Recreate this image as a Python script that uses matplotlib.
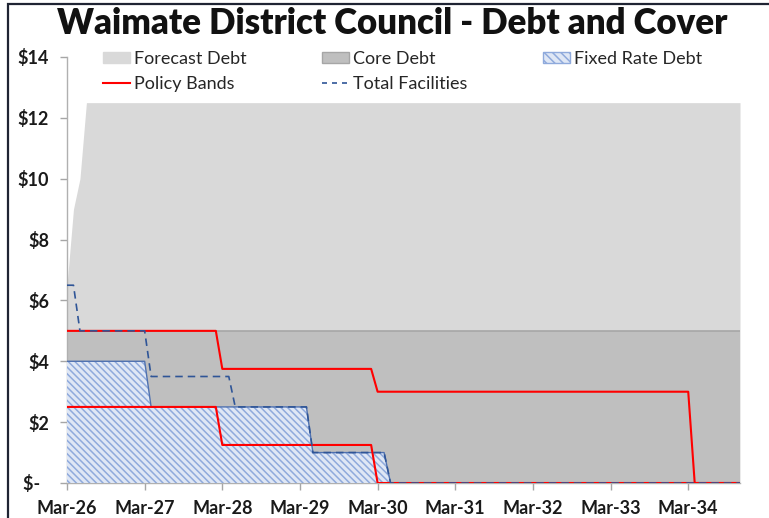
import matplotlib
matplotlib.use("Agg")
import matplotlib.pyplot as plt
from matplotlib.patches import Patch, Rectangle
from matplotlib.lines import Line2D

plt.rcParams['font.family'] = ['Lato', 'DejaVu Sans']

# ---- data (month index from Mar-26; value in $m) ----
tick_months = [0, 12, 24, 36, 48, 60, 72, 84, 96]
tick_labels = ["Mar-26", "Mar-27", "Mar-28", "Mar-29", "Mar-30",
               "Mar-31", "Mar-32", "Mar-33", "Mar-34"]
y_ticks = [0, 2, 4, 6, 8, 10, 12, 14]
y_labels = ["$-  ", "$2", "$4", "$6", "$8", "$10", "$12", "$14"]

forecast_m = [0, 1, 2, 3, 104]
forecast_v = [6.5, 9, 10, 12.5, 12.5]

core_m = [0, 104]
core_v = [5, 5]

fixed_m = [0, 12, 13, 37, 38, 49, 50, 104]
fixed_v = [4, 4, 2.5, 2.5, 1, 1, 0, 0]

policy_hi_m = [0, 23, 24, 47, 48, 96, 97, 104]
policy_hi_v = [5, 5, 3.75, 3.75, 3, 3, 0, 0]
policy_lo_m = [0, 23, 24, 47, 48, 104]
policy_lo_v = [2.5, 2.5, 1.25, 1.25, 0, 0]

facil_m = [0, 1, 2, 12, 13, 25, 26, 37, 38, 49, 50, 104]
facil_v = [6.5, 6.5, 5, 5, 3.5, 3.5, 2.5, 2.5, 1, 1, 0, 0]

# ---- style ----
c_fore = "#d9d9d9"
c_core = "#bfbfbf"
c_core_edge = "#a6a6a6"
c_fix_face = "#dfe7f5"
c_fix_hatch = "#8faadc"
c_fix_edge = "#4f71b0"
c_red = "#ff0000"
c_dash = "#2f5597"
plt.rcParams['hatch.linewidth'] = 1.1

W, H = 769, 518
fig = plt.figure(figsize=(W / 100, H / 100), dpi=100)
ax = fig.add_axes([67 / W, 1 - 483 / H, (740 - 67) / W, (483 - 57) / H])

ax.fill_between(forecast_m, 0, forecast_v, color=c_fore, lw=0, zorder=1)
ax.fill_between(core_m, 0, core_v, facecolor=c_core, edgecolor='none', lw=0, zorder=2)
ax.plot(core_m, core_v, color=c_core_edge, lw=1.2, zorder=2.1)
ax.fill_between(fixed_m, 0, fixed_v, facecolor=c_fix_face, edgecolor=c_fix_hatch,
                hatch='\\\\\\\\\\', lw=0, zorder=3)
ax.plot(fixed_m, fixed_v, color=c_fix_edge, lw=1.0, zorder=3.1)
ax.plot(policy_hi_m, policy_hi_v, color=c_red, lw=1.5, zorder=4)
ax.plot(policy_lo_m, policy_lo_v, color=c_red, lw=1.5, zorder=4)
ax.plot(facil_m, facil_v, color=c_dash, lw=1.2, ls=(0, (4.5, 3)), zorder=5)

ax.set_xlim(0, 104)
ax.set_ylim(0, 14)
ax.set_xticks(tick_months)
ax.set_xticklabels(tick_labels, fontsize=13, fontweight='bold', color='#1a1a1a')
ax.set_yticks(y_ticks)
ax.set_yticklabels(y_labels, fontsize=13, fontweight='bold', color='#1a1a1a')
ax.tick_params(axis='x', length=5, width=1, color='#a6a6a6', pad=7)
ax.tick_params(axis='y', length=5, width=1, color='#a6a6a6', pad=8)
for s in ['top', 'right']:
    ax.spines[s].set_visible(False)
for s in ['left', 'bottom']:
    ax.spines[s].set_color('#b0b0b0')
    ax.spines[s].set_linewidth(1)
ax.set_facecolor('white')

# legend
h_fore = Patch(facecolor=c_fore, edgecolor=c_fore)
h_core = Patch(facecolor=c_core, edgecolor=c_core_edge)
h_fix = Patch(facecolor=c_fix_face, edgecolor=c_fix_hatch, hatch='\\\\\\\\')
h_pol = Line2D([], [], color=c_red, lw=1.5)
h_fac = Line2D([], [], color=c_dash, lw=1.2, ls=(0, (3, 3)))
handles = [h_fore, h_pol, h_core, h_fac, h_fix]
labels = ["Forecast Debt", "Policy Bands", "Core Debt", "Total Facilities", "Fixed Rate Debt"]
leg = fig.legend(handles, labels, ncol=3, loc='upper left',
                 bbox_to_anchor=(103 / W, 1 - 51 / H), frameon=False,
                 fontsize=13, handlelength=1.5, handleheight=0.5,
                 handletextpad=0.2, columnspacing=4.2, labelspacing=0.5,
                 borderpad=0, borderaxespad=0)
for t in leg.get_texts():
    t.set_color('#262626')

fig.text(392 / W, 1 - 23 / H, "Waimate District Council - Debt and Cover",
         ha='center', va='center', fontsize=25, fontweight='heavy', color='#111111')

# outer chart border
fig.patches.append(Rectangle((8 / W, -0.05), 1.1, 1 - 4 / H + 0.05, transform=fig.transFigure,
                             fill=False, edgecolor='#1f2433', lw=1.6, zorder=10))

fig.savefig("out.png", dpi=100)
